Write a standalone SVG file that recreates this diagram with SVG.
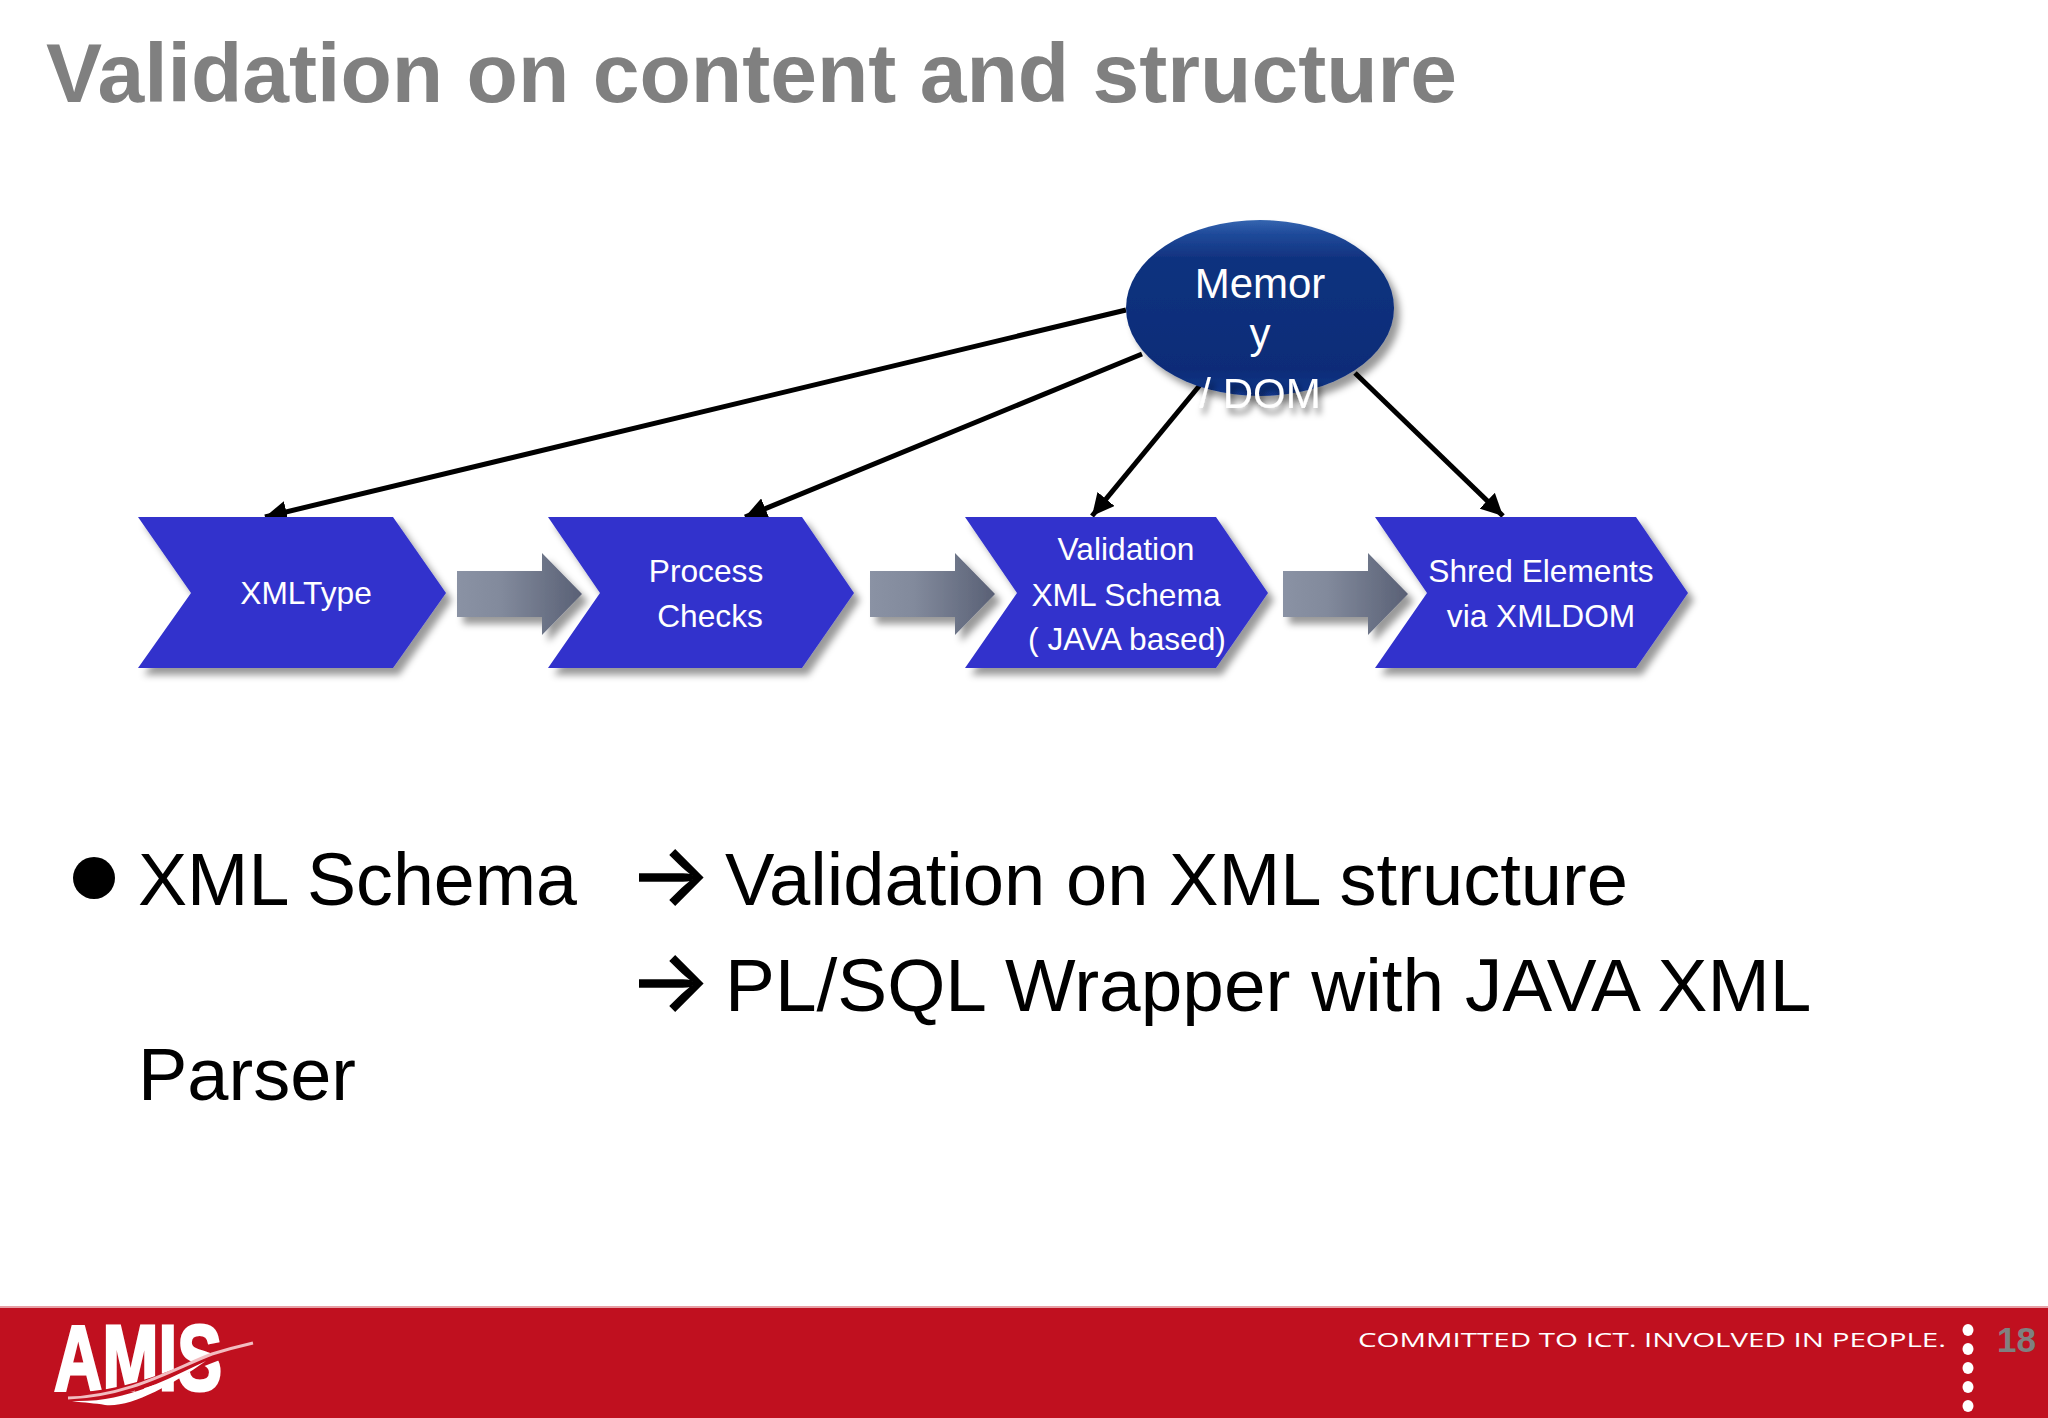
<svg xmlns="http://www.w3.org/2000/svg" width="2048" height="1418" viewBox="0 0 2048 1418">
<style>
text{font-family:"Liberation Sans",Arial,sans-serif}
.title{font-size:84.1px;font-weight:bold;fill:#808080}
.body{font-size:74px;fill:#000}
.ar{font-family:"Inter","Liberation Sans",sans-serif;font-size:86px;fill:#000;stroke:#000;stroke-width:1.5}
.chev{fill:#3333cc;filter:url(#sh)}
.ct{font-size:31.7px;fill:#fff;text-anchor:middle}
.mt{font-size:42px;fill:#fff;text-anchor:middle}
.conn{stroke:#000;stroke-width:5;fill:none;marker-end:url(#ah)}
.blk{fill:url(#ag);filter:url(#sh)}
.dot{fill:#fff}
.tag{font-family:"Open Sans","Liberation Sans",sans-serif;font-size:20px;fill:#fff}
</style>
<defs>
<filter id="sh" x="-10%" y="-10%" width="125%" height="130%"><feDropShadow dx="6" dy="7" stdDeviation="3.5" flood-color="#000" flood-opacity="0.4"/></filter>
<filter id="ts" x="-10%" y="-20%" width="125%" height="150%"><feDropShadow dx="3" dy="6" stdDeviation="3" flood-color="#000" flood-opacity="0.5"/></filter>
<linearGradient id="ag" x1="0" x2="1" y1="0" y2="0"><stop offset="0" stop-color="#8a92a4"/><stop offset="0.35" stop-color="#828a9c"/><stop offset="1" stop-color="#596075"/></linearGradient>
<linearGradient id="eg" x1="0" x2="0" y1="0" y2="1"><stop offset="0" stop-color="#3565b0"/><stop offset="0.08" stop-color="#1f4a9a"/><stop offset="0.22" stop-color="#10327f"/><stop offset="0.85" stop-color="#0c2c78"/><stop offset="1" stop-color="#12368a"/></linearGradient>
<marker id="ah" viewBox="0 0 10 10" refX="10" refY="5" markerWidth="4.4" markerHeight="4.4" orient="auto"><path d="M0 0L10 5L0 10Z" fill="#000"/></marker>
</defs>
<rect width="2048" height="1418" fill="#fff"/>
<text class="title" x="46" y="102">Validation on content and structure</text>
<g id="connectors">
<line class="conn" x1="1126" y1="310" x2="265" y2="517"/>
<line class="conn" x1="1142" y1="354" x2="745" y2="517"/>
<line class="conn" x1="1200" y1="385" x2="1092" y2="516"/>
<line class="conn" x1="1355" y1="373" x2="1503" y2="516"/>
<path class="blk" d="M457 571H542V553L582 594L542 635V617H457Z"/>
<path class="blk" d="M870 571H955V553L995 594L955 635V617H870Z"/>
<path class="blk" d="M1283 571H1368V553L1408 594L1368 635V617H1283Z"/>
</g>
<g id="memory">
<ellipse cx="1260" cy="308" rx="134" ry="88" fill="url(#eg)" filter="url(#sh)"/>
<text class="mt" x="1260" y="298">Memor</text>
<text class="mt" x="1260" y="348">y</text>
<text class="mt" x="1260" y="408" filter="url(#ts)">/ DOM</text>
</g>
<g id="xmltype">
<path class="chev" d="M138 517H393L446 593L393 668H138L191 593Z"/>
<text class="ct" x="306" y="604">XMLType</text>
</g>
<g id="process">
<path class="chev" d="M548 517H802L854 593L802 668H548L600 593Z"/>
<text class="ct" x="706" y="582">Process</text>
<text class="ct" x="710" y="627">Checks</text>
</g>
<g id="validation">
<path class="chev" d="M965 517H1216L1268 593L1216 668H965L1017 593Z"/>
<text class="ct" x="1126" y="560">Validation</text>
<text class="ct" x="1126" y="606">XML Schema</text>
<text class="ct" x="1127" y="650">( JAVA based)</text>
</g>
<g id="shred">
<path class="chev" d="M1375 517H1636L1688 593L1636 668H1375L1427 593Z"/>
<text class="ct" x="1541" y="582">Shred Elements</text>
<text class="ct" x="1541" y="627">via XMLDOM</text>
</g>
<circle cx="94" cy="878" r="21" fill="#000"/>
<text class="body" x="138" y="905" style="font-size:73.6px">XML Schema</text>
<text class="ar" x="629" y="905">→</text>
<text class="body" x="725" y="905" style="font-size:74.2px">Validation on XML structure</text>
<text class="ar" x="629" y="1011">→</text>
<text class="body" x="725" y="1011" style="font-size:74.8px">PL/SQL Wrapper with JAVA XML</text>
<text class="body" x="138" y="1100">Parser</text>
<g id="footer">
<rect y="1307" width="2048" height="111" fill="#c0101f"/>
<rect y="1306" width="2048" height="2" fill="#e6a0a6"/>
<text x="54" y="1390" font-size="92" font-weight="bold" fill="#fff" stroke="#fff" stroke-width="3" textLength="168" lengthAdjust="spacingAndGlyphs">AMIS</text>
<path d="M78 1396C135 1394 185 1368 230 1352" fill="none" stroke="#c0101f" stroke-width="8"/>
<path d="M68 1398C130 1396 175 1368 212 1354C228 1349 240 1346 253 1343" fill="none" stroke="#f2bcc0" stroke-width="3"/>
<path d="M72 1401C125 1403 165 1380 206 1361C170 1386 130 1408 105 1405C95 1403 85 1403 72 1401Z" fill="#fff"/>
<text class="tag" x="1358" y="1347" textLength="588" lengthAdjust="spacingAndGlyphs">COMMITTED TO ICT. INVOLVED IN PEOPLE.</text>
<text x="1997" y="1352" font-size="35" font-weight="bold" fill="#808080">18</text>
<g class="dot"><ellipse cx="1968" cy="1330" rx="5.5" ry="6"/><ellipse cx="1968" cy="1349" rx="5.5" ry="6"/><ellipse cx="1968" cy="1368" rx="5.5" ry="6"/><ellipse cx="1968" cy="1387" rx="5.5" ry="6"/><ellipse cx="1968" cy="1406" rx="5.5" ry="6"/></g>
</g>
</svg>
